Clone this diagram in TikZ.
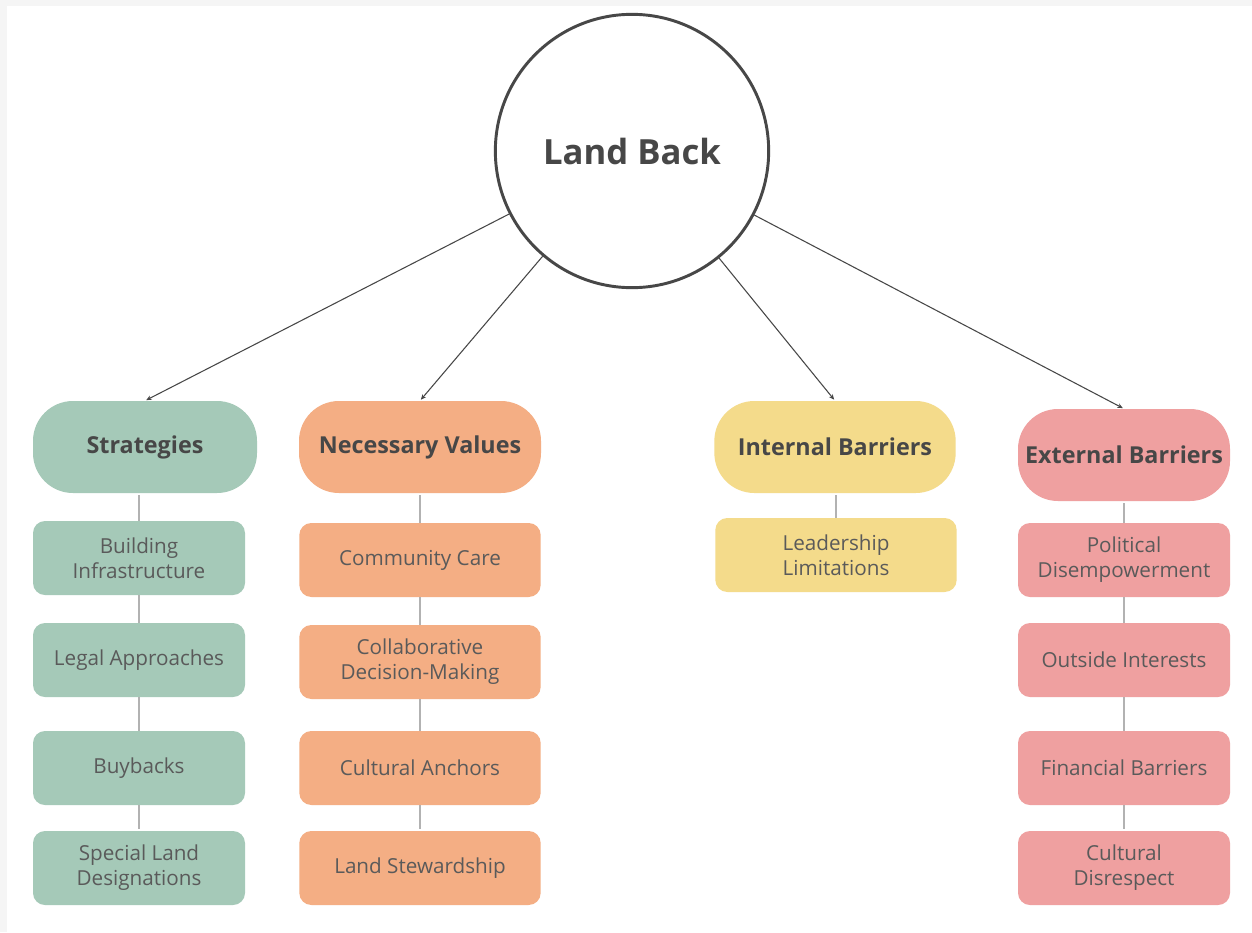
\documentclass[tikz,border=0pt]{standalone}
\usepackage{fontspec}
\setmainfont{Open Sans}
\usetikzlibrary{arrows.meta}

\definecolor{ink}{HTML}{474747}
\definecolor{sage}{HTML}{A5C9B8}
\definecolor{peach}{HTML}{F4AE84}
\definecolor{sand}{HTML}{F4DB8B}
\definecolor{rose}{HTML}{EFA0A0}

\begin{document}
\begin{tikzpicture}[x=0.75pt,y=-0.75pt,>={Stealth[length=4pt,width=3.5pt]},shorten >=1pt,
  hub/.style={circle,draw=ink,line width=2.2pt,minimum size=205pt,inner sep=0pt,
    text=ink,font=\bfseries\fontsize{26}{31}\selectfont},
  head/.style={rounded corners=30pt,minimum height=69pt,text=ink,
    font=\bfseries\fontsize{17.5}{21}\selectfont},
  leaf/.style={rounded corners=9pt,minimum height=55.5pt,align=center,text=ink!90,
    font=\fontsize{15.5}{18.8}\selectfont},
  link/.style={draw=gray!60,line width=1pt}]

  % page
  \fill[black!4] (0,0) rectangle (1252,932);
  \fill[white] (7,6) rectangle (1252,932);
  \useasboundingbox (0,0) rectangle (1252,932);

  \node[hub] (hub) at (632,151) {Land Back};

  % headers
  \node[head,fill=sage,minimum width=168pt] (sh) at (145,447) {Strategies};
  \node[head,fill=peach,minimum width=181.5pt] (vh) at (420,447) {Necessary Values};
  \node[head,fill=sand,minimum width=181pt] (ih) at (835,447) {Internal Barriers};
  \node[head,fill=rose,minimum width=159pt,inner xsep=2pt] (eh) at (1124,455) {External Barriers};

  % strategies
  \node[leaf,fill=sage,minimum width=159pt] (s1) at (139,558) {Building\\Infrastructure};
  \node[leaf,fill=sage,minimum width=159pt] (s2) at (139,660) {Legal Approaches};
  \node[leaf,fill=sage,minimum width=159pt] (s3) at (139,768) {Buybacks};
  \node[leaf,fill=sage,minimum width=159pt] (s4) at (139,868) {Special Land\\Designations};

  % values
  \node[leaf,fill=peach,minimum width=181pt] (v1) at (420,560) {Community Care};
  \node[leaf,fill=peach,minimum width=181pt] (v2) at (420,662) {Collaborative\\Decision-Making};
  \node[leaf,fill=peach,minimum width=181pt] (v3) at (420,768) {Cultural Anchors};
  \node[leaf,fill=peach,minimum width=181pt] (v4) at (420,868) {Land Stewardship};

  % internal
  \node[leaf,fill=sand,minimum width=181pt] (i1) at (836,555) {Leadership\\Limitations};

  % external
  \node[leaf,fill=rose,minimum width=159pt] (e1) at (1124,560) {Political\\Disempowerment};
  \node[leaf,fill=rose,minimum width=159pt] (e2) at (1124,660) {Outside Interests};
  \node[leaf,fill=rose,minimum width=159pt] (e3) at (1124,768) {Financial Barriers};
  \node[leaf,fill=rose,minimum width=159pt] (e4) at (1124,868) {Cultural\\Disrespect};

  % column links
  \foreach \c/\h in {s/sh,v/vh,e/eh} {
    \draw[link] (\c1.north) -- (\c1.north |- \h.south);
    \draw[link] (\c1.south) -- (\c2.north) (\c2.south) -- (\c3.north) (\c3.south) -- (\c4.north);
  }
  \draw[link] (i1.north) -- (i1.north |- ih.south);

  \path[->,draw=ink,line width=0.8pt]
    (hub) edge (sh.north)
    (hub) edge (vh.north)
    (hub) edge (ih.north)
    (hub) edge (eh.north);
\end{tikzpicture}
\end{document}
